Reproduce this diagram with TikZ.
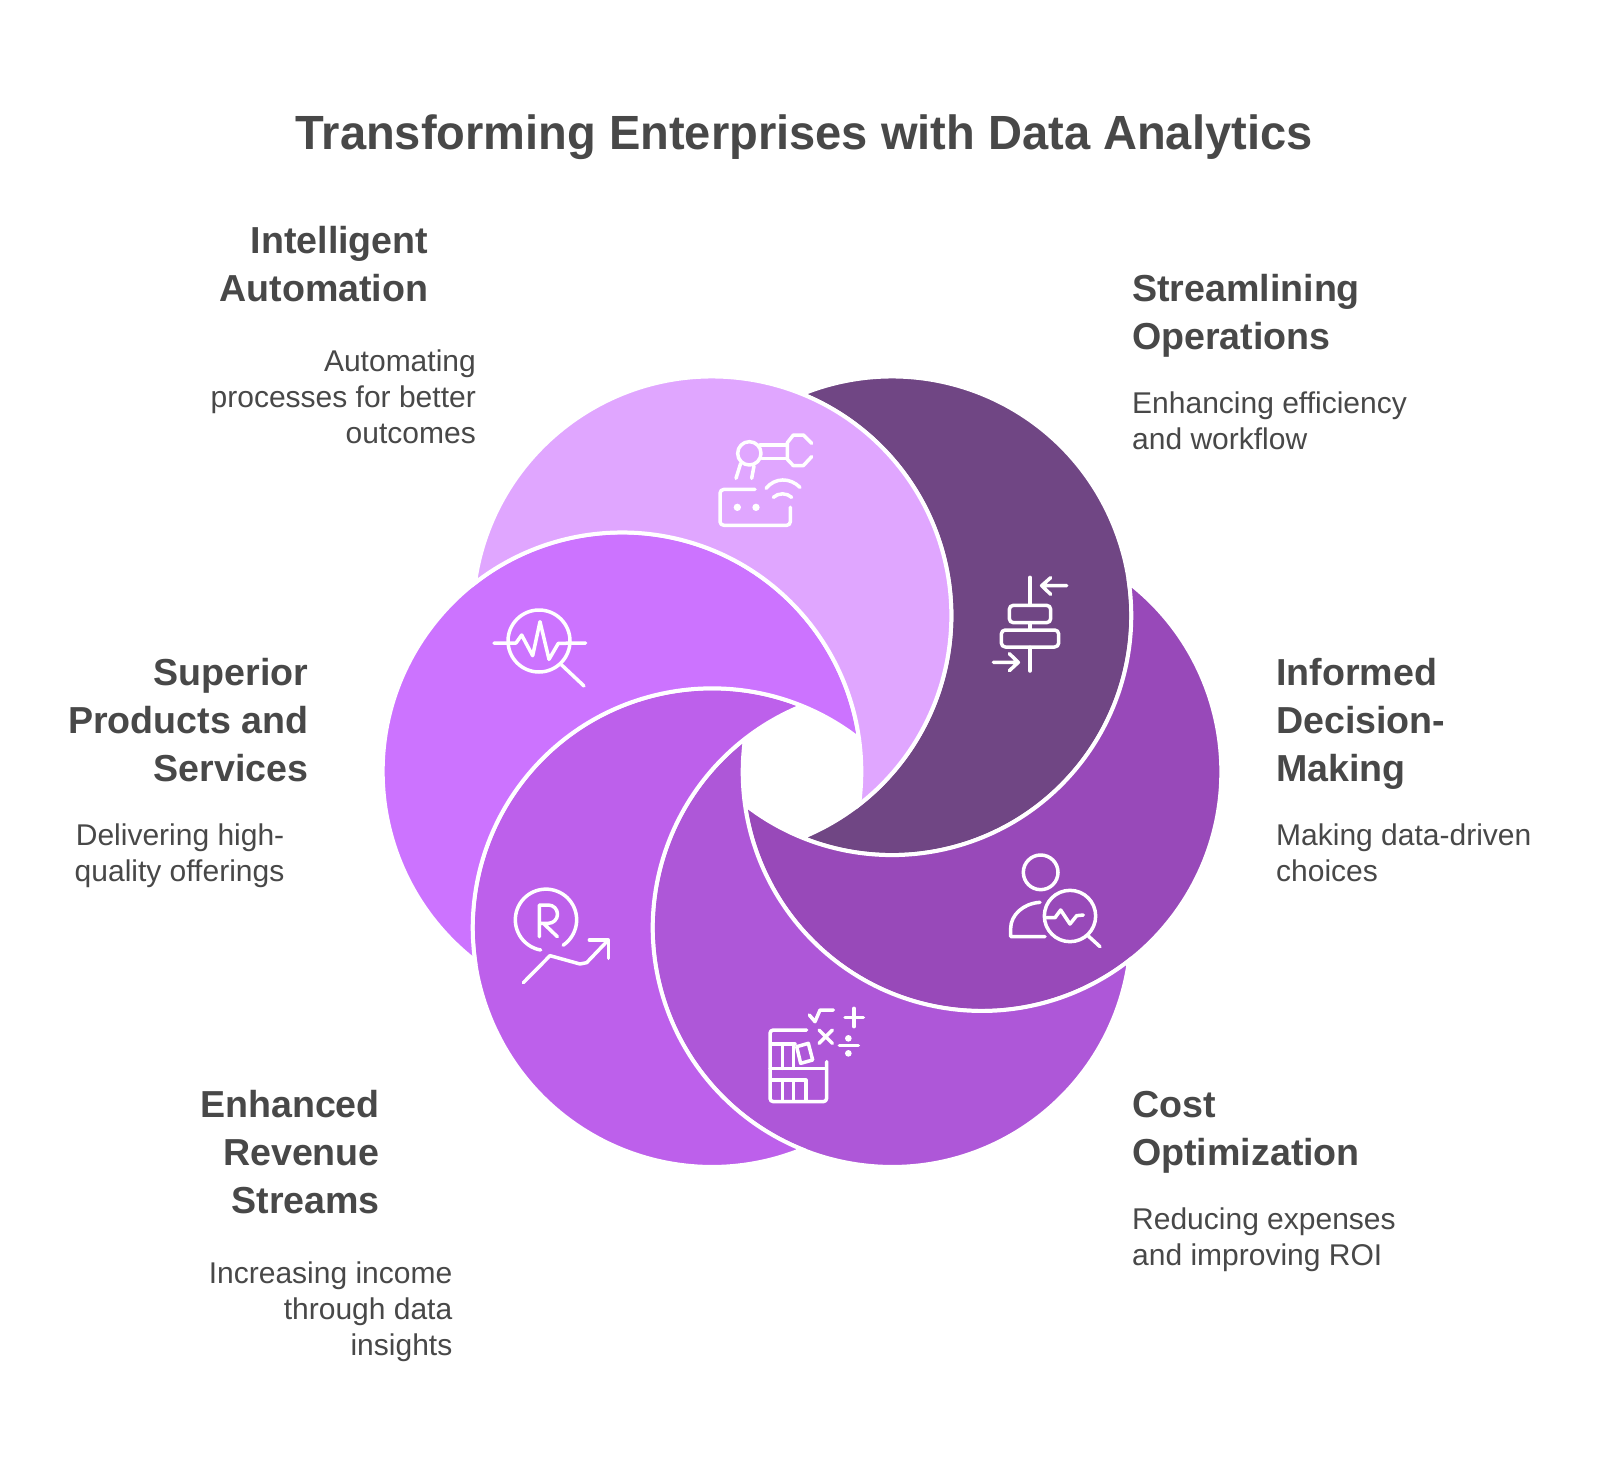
\documentclass[tikz,border=0pt]{standalone}
\usepackage{fontspec}
\setmainfont{Liberation Sans}
\newfontfamily\titlefont[FakeStretch=0.98]{Liberation Sans}
\definecolor{ink}{HTML}{484848}
\definecolor{cLight}{HTML}{E0A6FF}
\definecolor{cDark}{HTML}{704684}
\definecolor{cInf}{HTML}{9849B9}
\definecolor{cCost}{HTML}{AE57D8}
\definecolor{cEnh}{HTML}{BD60EB}
\definecolor{cSup}{HTML}{CC73FF}
\newcommand\crescent[2]{%
  \draw[petal,fill=#2] (802,771.7) ++(#1-30:377.6)
    arc[start angle=#1-52.1,delta angle=224.2,radius=239.3]
    arc[start angle=#1+127.9,delta angle=-135.8,radius=239.3] -- cycle;}
\newcommand\rlines[1]{\begin{tabular}[t]{@{}r@{}}#1\end{tabular}}
\newcommand\llines[1]{\begin{tabular}[t]{@{}l@{}}#1\end{tabular}}
\tikzset{
  x=1pt,y=-1pt,
  petal/.style={draw=white,line width=4pt,line join=miter},
  icon/.style={draw=white,line width=3.5pt,line cap=round,line join=round},
  zoomed/.style={x=0.33333pt,y=-0.33333pt},
  titletext/.style={inner sep=0pt,text=ink,font=\titlefont\bfseries\fontsize{48}{58}\selectfont},
  headtext/.style={inner sep=0pt,text=ink,font=\bfseries\fontsize{37.6}{48}\selectfont},
  bodytext/.style={inner sep=0pt,text=ink,font=\fontsize{30}{35.8}\selectfont},
}
\begin{document}
\begin{tikzpicture}
\useasboundingbox (0,0) rectangle (1608,1464);
\fill[white] (0,0) rectangle (1608,1464);
\crescent{-60}{cDark}
\crescent{0}{cInf}
\crescent{60}{cCost}
\crescent{120}{cEnh}
\crescent{180}{cSup}
\crescent{240}{cLight}
% texts
\node[titletext,anchor=base] (title) at (804,149.5) {Transforming Enterprises with Data Analytics};
\node[headtext,anchor=base east] (h1) at (428.5,253.3) {\rlines{Intelligent\\Automation}};
\node[bodytext,anchor=base east] (b1) at (476,371.7) {\rlines{Automating\\processes for better\\outcomes}};
\node[headtext,anchor=base west] (h2) at (1132,301) {\llines{Streamlining\\Operations}};
\node[bodytext,anchor=base west] (b2) at (1132,413.5) {\llines{Enhancing efficiency\\and workflow}};
\node[headtext,anchor=base west] (h3) at (1276,685) {\llines{Informed\\Decision-\\Making}};
\node[bodytext,anchor=base west] (b3) at (1276,845.5) {\llines{Making data-driven\\choices}};
\node[headtext,anchor=base east] (h4) at (308.5,685) {\rlines{Superior\\Products and\\Services}};
\node[bodytext,anchor=base east] (b4) at (284.5,845.5) {\rlines{Delivering high-\\quality offerings}};
\node[headtext,anchor=base east] (h5) at (380,1117.8) {\rlines{Enhanced\\Revenue\\Streams}};
\node[bodytext,anchor=base east] (b5) at (452.5,1283.4) {\rlines{Increasing income\\through data\\insights}};
\node[headtext,anchor=base west] (h6) at (1132,1117.8) {\llines{Cost\\Optimization}};
\node[bodytext,anchor=base west] (b6) at (1132,1229.5) {\llines{Reducing expenses\\and improving ROI}};
% icons from zoom 1
\begin{scope}[shift={(680pt,-400pt)},zoomed]
  \draw[icon] (208,160) circle (35);
  \draw[icon] (240,135)--(322,135) (245,175)--(322,175);
  \draw[icon] (395,130)--(370,105)--(340,105)--(322,128)--(322,178)--(340,197)--(370,197)--(395,170);
  \draw[icon] (182,190)--(168,235) (222,198)--(215,235);
  \draw[icon] (225,268)--(132,268) to[out=180,in=90] (120,280) -- (120,365) to[out=-90,in=180] (132,376) -- (320,376) to[out=0,in=-90] (331,365) -- (331,322);
  \fill[white] (172,322) circle (11) (228,322) circle (11);
  \draw[icon] (258,265) .. controls (285,232) and (330,232) .. (360,262);
  \draw[icon] (280,292) .. controls (295,278) and (320,278) .. (335,292);
  % align icon
  \draw[icon] (1050,532)--(1050,612) (1050,668)--(1050,690) (1050,742)--(1050,813);
  \draw[icon,rounded corners=4pt] (988,616) rectangle (1112,668);
  \draw[icon,rounded corners=4pt] (964,690) rectangle (1136,741);
  \draw[icon] (1160,557)--(1085,557) (1112,533)--(1085,557)--(1112,583);
  \draw[icon] (940,787)--(1015,787) (988,761)--(1015,787)--(988,812);
\end{scope}
% icons from zoom 2
\begin{scope}[shift={(480pt,-590pt)},zoomed]
  \draw[icon] (177,153) circle (93);
  \draw[icon] (42,159)--(108,159)--(125,135)--(158,197)--(180,95)--(207,208)--(235,160)--(317,159);
  \draw[icon] (245,225)--(312,288);
  \draw[icon] (182,1080) arc[start angle=100,end angle=416,radius=92];
  \draw[icon] (178,1040)--(178,945)--(205,945) arc[start angle=-90,end angle=90,radius=27.5]--(178,1000) (190,1000)--(232,1040);
  \draw[icon] (130,1178)--(210,1097)--(300,1122)--(320,1118)--(385,1050);
  \draw[icon] (328,1050)--(385,1050)--(385,1105);
\end{scope}
% icons from zoom 3
\begin{scope}[shift={(740pt,-680pt)},zoomed]
  \draw[icon] (902,577) circle (52);
  \draw[icon] (900,667) .. controls (850,670) and (812,705) .. (812,745) -- (812,770) -- (915,770);
  \draw[icon] (990,708) circle (77);
  \draw[icon] (1045,768)--(1080,800);
  \draw[icon] (918,713)--(945,713)--(962,690)--(990,732)--(1010,707)--(1030,705);
  \draw[icon] (200,1050)--(100,1050) to[out=180,in=90] (90,1060) -- (90,1255) to[out=-90,in=180] (100,1265) -- (250,1265) to[out=0,in=-90] (260,1255) -- (260,1145);
  \draw[icon] (90,1165)--(255,1165);
  \draw[icon] (95,1092)--(165,1092) (128,1092)--(128,1165) (160,1092)--(160,1165);
  \draw[icon] (170,1100)--(205,1090)--(218,1140)--(182,1150)--cycle;
  \draw[icon] (95,1200)--(198,1200) (128,1200)--(128,1262) (160,1200)--(160,1262) (198,1200)--(198,1262);
  \draw[icon] (208,1005)--(225,1025)--(240,990)--(280,990);
  \draw[icon] (237,1050)--(277,1090) (277,1050)--(237,1090);
  \draw[icon] (342,985)--(342,1040) (315,1013)--(370,1013);
  \draw[icon] (298,1097)--(355,1097);
  \fill[white] (325,1075) circle (10) (325,1120) circle (10);
\end{scope}
\end{tikzpicture}
\end{document}
